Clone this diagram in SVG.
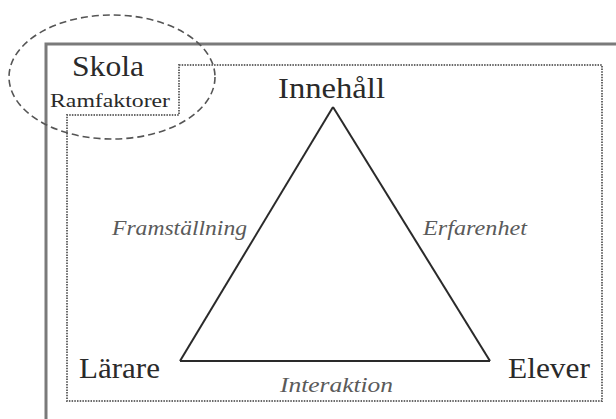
<svg xmlns="http://www.w3.org/2000/svg" width="616" height="419" viewBox="0 0 616 419">
<style>
.lbl{font-family:'Liberation Serif','DejaVu Serif',Times,serif;fill:#2a2a2a}
.big{font-size:29px}
.it{font-family:'Liberation Serif','DejaVu Serif',Times,serif;font-style:italic;font-size:20px;fill:#5a5a5a}
.edge{stroke:#2a2a2a;stroke-width:2;fill:none}
</style>
<rect width="616" height="419" fill="#fff"/>
<g id="frame">
<path d="M46,419 V44 H616" fill="none" stroke="#7a7a7a" stroke-width="3"/>
<path d="M179,65 H602 V401 H67 V115 H179 Z" fill="none" stroke="#6a6a6a" stroke-width="2" stroke-dasharray="1.5 1.2"/>
</g>
<g id="skola">
<ellipse cx="112" cy="77" rx="103" ry="62" fill="none" stroke="#555" stroke-width="1.6" stroke-dasharray="7 4"/>
<text class="lbl big" font-family="Liberation Serif, DejaVu Serif, serif" x="72" y="76" textLength="72" lengthAdjust="spacingAndGlyphs">Skola</text>
<text class="lbl" font-family="Liberation Serif, DejaVu Serif, serif" x="50" y="107" font-size="18" textLength="120" lengthAdjust="spacingAndGlyphs">Ramfaktorer</text>
</g>
<g id="connectors">
<line class="edge" x1="333" y1="107" x2="180" y2="361"/>
<line class="edge" x1="333" y1="107" x2="490" y2="361"/>
<line class="edge" x1="180" y1="361" x2="490" y2="361"/>
<text class="it" x="112" y="235" textLength="135" lengthAdjust="spacingAndGlyphs">Framställning</text>
<text class="it" x="423" y="235" textLength="104" lengthAdjust="spacingAndGlyphs">Erfarenhet</text>
<text class="it" x="280" y="392" textLength="113" lengthAdjust="spacingAndGlyphs">Interaktion</text>
</g>
<g id="innehall"><text class="lbl big" x="278" y="98" textLength="107" lengthAdjust="spacingAndGlyphs">Innehåll</text></g>
<g id="larare"><text class="lbl big" x="79" y="378" textLength="81" lengthAdjust="spacingAndGlyphs">Lärare</text></g>
<g id="elever"><text class="lbl big" x="508" y="378" textLength="82" lengthAdjust="spacingAndGlyphs">Elever</text></g>
</svg>
